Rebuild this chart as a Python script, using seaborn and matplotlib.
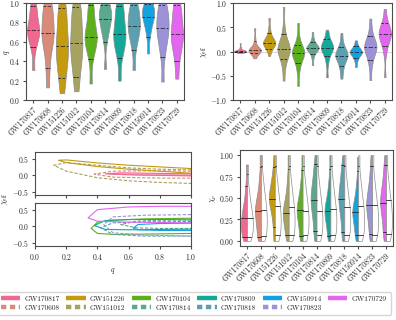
import numpy as np
import pandas as pd
import matplotlib
matplotlib.use("Agg")
import matplotlib.pyplot as plt
from matplotlib.lines import Line2D
import seaborn as sns

events = ['GW170817', 'GW170608', 'GW151226', 'GW151012', 'GW170104', 'GW170814',
          'GW170809', 'GW170818', 'GW150914', 'GW170823', 'GW170729']
solid_events = ['GW170817', 'GW151226', 'GW170104', 'GW170809', 'GW150914', 'GW170729']
top_events = ['GW170817', 'GW170608', 'GW151226', 'GW151012']
event_colors = ['#f0678f', '#d98b77', '#c49a0f', '#a5a35f', '#5bb01c', '#5aa88e',
                '#13a898', '#5aa0b0', '#13a2e0', '#9b92d8', '#e365f0']

q_samples = {
    'GW170817': [0.31, 0.52, 0.60, 0.65, 0.68, 0.71, 0.73, 0.77, 0.82, 0.88, 0.95, 1.0],
    'GW170608': [0.13, 0.33, 0.48, 0.57, 0.63, 0.67, 0.71, 0.77, 0.83, 0.90, 0.96, 1.0],
    'GW151226': [0.07, 0.22, 0.32, 0.40, 0.47, 0.53, 0.59, 0.66, 0.74, 0.83, 0.93, 1.0],
    'GW151012': [0.09, 0.24, 0.35, 0.43, 0.50, 0.56, 0.62, 0.69, 0.77, 0.85, 0.94, 1.0],
    'GW170104': [0.17, 0.42, 0.52, 0.57, 0.61, 0.64, 0.67, 0.71, 0.77, 0.85, 0.94, 1.0],
    'GW170814': [0.32, 0.60, 0.69, 0.74, 0.78, 0.82, 0.85, 0.88, 0.91, 0.94, 0.97, 1.0],
    'GW170809': [0.20, 0.43, 0.52, 0.58, 0.62, 0.66, 0.70, 0.75, 0.81, 0.88, 0.95, 1.0],
    'GW170818': [0.31, 0.52, 0.61, 0.67, 0.71, 0.75, 0.78, 0.82, 0.86, 0.91, 0.96, 1.0],
    'GW150914': [0.48, 0.65, 0.73, 0.78, 0.82, 0.85, 0.87, 0.90, 0.93, 0.95, 0.98, 1.0],
    'GW170823': [0.19, 0.44, 0.55, 0.62, 0.67, 0.72, 0.76, 0.80, 0.85, 0.90, 0.96, 1.0],
    'GW170729': [0.22, 0.40, 0.50, 0.57, 0.62, 0.66, 0.70, 0.75, 0.81, 0.88, 0.95, 1.0],
}
q_lo = [0.55, 0.33, 0.23, 0.24, 0.42, 0.60, 0.43, 0.52, 0.65, 0.44, 0.40]
q_med = [0.72, 0.69, 0.56, 0.59, 0.65, 0.83, 0.68, 0.76, 0.86, 0.74, 0.68]
q_hi = [0.97, 0.97, 0.95, 0.96, 0.98, 0.98, 0.97, 0.98, 0.99, 0.98, 0.98]

# effective spin
chi_eff_samples = {
    'GW170817': [-0.03, -0.015, -0.01, -0.005, 0.0, 0.0, 0.005, 0.005, 0.01, 0.01, 0.015, 0.02, 0.03, 0.05, 0.09, 0.17],
    'GW170608': [-0.14, -0.07, -0.04, -0.02, 0.0, 0.01, 0.02, 0.03, 0.03, 0.04, 0.05, 0.07, 0.10, 0.16, 0.27, 0.48],
    'GW151226': [-0.09, 0.03, 0.07, 0.10, 0.13, 0.15, 0.17, 0.18, 0.19, 0.21, 0.23, 0.26, 0.30, 0.36, 0.48, 0.69],
    'GW151012': [-0.60, -0.34, -0.20, -0.12, -0.06, -0.02, 0.01, 0.04, 0.06, 0.09, 0.12, 0.16, 0.22, 0.31, 0.50, 0.92],
    'GW170104': [-0.71, -0.42, -0.28, -0.20, -0.14, -0.10, -0.06, -0.04, -0.02, 0.0, 0.03, 0.06, 0.10, 0.16, 0.30, 0.59],
    'GW170814': [-0.28, -0.12, -0.04, 0.0, 0.03, 0.05, 0.06, 0.07, 0.08, 0.09, 0.10, 0.12, 0.15, 0.19, 0.26, 0.40],
    'GW170809': [-0.53, -0.26, -0.13, -0.06, -0.01, 0.03, 0.05, 0.07, 0.09, 0.11, 0.13, 0.16, 0.20, 0.25, 0.33, 0.45],
    'GW170818': [-0.56, -0.40, -0.30, -0.23, -0.18, -0.14, -0.11, -0.09, -0.07, -0.05, -0.02, 0.01, 0.05, 0.10, 0.20, 0.38],
    'GW150914': [-0.32, -0.20, -0.14, -0.10, -0.07, -0.05, -0.03, -0.02, -0.01, 0.0, 0.02, 0.04, 0.06, 0.09, 0.14, 0.23],
    'GW170823': [-0.59, -0.32, -0.18, -0.10, -0.04, 0.01, 0.05, 0.08, 0.10, 0.13, 0.16, 0.20, 0.25, 0.32, 0.45, 0.68],
    'GW170729': [-0.53, -0.05, 0.10, 0.18, 0.24, 0.28, 0.32, 0.35, 0.37, 0.40, 0.43, 0.47, 0.52, 0.58, 0.68, 0.88],
}
chi_eff_lo = [-0.01, -0.04, 0.06, -0.15, -0.24, -0.05, -0.09, -0.30, -0.14, -0.17, 0.12]
chi_eff_med = [0.00, 0.03, 0.18, 0.05, -0.04, 0.07, 0.08, -0.09, -0.01, 0.09, 0.36]
chi_eff_hi = [0.02, 0.22, 0.38, 0.36, 0.13, 0.19, 0.25, 0.09, 0.11, 0.31, 0.58]

# precessing spin: posterior (coloured, left) and prior (white, right)
chi_p_post = {
    'GW170817': [0.0, 0.04, 0.08, 0.12, 0.16, 0.20, 0.24, 0.28, 0.32, 0.37, 0.43, 0.52, 0.65, 0.89],
    'GW170608': [0.0, 0.05, 0.12, 0.19, 0.25, 0.30, 0.34, 0.37, 0.41, 0.46, 0.53, 0.62, 0.76, 1.0],
    'GW151226': [0.0, 0.16, 0.28, 0.36, 0.42, 0.46, 0.49, 0.52, 0.56, 0.61, 0.67, 0.74, 0.84, 1.0],
    'GW151012': [0.0, 0.06, 0.13, 0.20, 0.25, 0.29, 0.32, 0.35, 0.39, 0.44, 0.51, 0.61, 0.75, 1.0],
    'GW170104': [0.0, 0.06, 0.14, 0.21, 0.27, 0.32, 0.35, 0.38, 0.42, 0.47, 0.54, 0.63, 0.76, 1.0],
    'GW170814': [0.0, 0.10, 0.20, 0.29, 0.36, 0.42, 0.47, 0.51, 0.56, 0.62, 0.69, 0.77, 0.87, 1.0],
    'GW170809': [0.0, 0.06, 0.14, 0.21, 0.27, 0.31, 0.34, 0.37, 0.41, 0.46, 0.53, 0.62, 0.75, 1.0],
    'GW170818': [0.0, 0.10, 0.21, 0.30, 0.37, 0.43, 0.48, 0.52, 0.57, 0.63, 0.70, 0.78, 0.87, 1.0],
    'GW150914': [0.0, 0.06, 0.13, 0.20, 0.26, 0.30, 0.33, 0.36, 0.40, 0.45, 0.52, 0.61, 0.74, 0.98],
    'GW170823': [0.0, 0.08, 0.17, 0.25, 0.32, 0.37, 0.41, 0.45, 0.50, 0.56, 0.63, 0.72, 0.84, 1.0],
    'GW170729': [0.0, 0.09, 0.18, 0.27, 0.34, 0.40, 0.44, 0.48, 0.53, 0.59, 0.66, 0.75, 0.86, 1.0],
}
chi_p_prior = {e: [0.0, 0.05, 0.10, 0.15, 0.20, 0.25, 0.30, 0.35, 0.40, 0.46, 0.53, 0.62, 0.74, 1.0] for e in events}
chi_p_prior['GW170817'] = [0.0, 0.04, 0.08, 0.12, 0.16, 0.20, 0.24, 0.28, 0.32, 0.37, 0.43, 0.51, 0.62, 0.89]
chi_p_post_lo = [0.04, 0.05, 0.16, 0.07, 0.06, 0.11, 0.06, 0.10, 0.07, 0.08, 0.10]
chi_p_post_med = [0.27, 0.35, 0.49, 0.33, 0.36, 0.48, 0.35, 0.49, 0.34, 0.42, 0.44]
chi_p_post_hi = [0.64, 0.86, 0.86, 0.84, 0.83, 0.90, 0.84, 0.88, 0.82, 0.87, 0.88]
chi_p_prior_lo = [0.04, 0.06, 0.07, 0.07, 0.07, 0.07, 0.07, 0.07, 0.07, 0.07, 0.08]
chi_p_prior_med = [0.27, 0.36, 0.41, 0.39, 0.35, 0.35, 0.37, 0.40, 0.41, 0.42, 0.48]
chi_p_prior_hi = [0.78, 0.87, 0.87, 0.87, 0.87, 0.87, 0.87, 0.87, 0.87, 0.87, 0.88]

# 90% credible contours in (q, chi_eff): q grid, upper edge, lower edge
contour_q = {
    'GW170817': [0.45, 0.55, 0.70, 0.85, 1.00],
    'GW170608': [0.38, 0.50, 0.70, 0.85, 1.00],
    'GW151226': [0.15, 0.20, 0.40, 0.60, 0.80, 1.00],
    'GW151012': [0.12, 0.20, 0.40, 0.60, 0.80, 1.00],
    'GW170104': [0.36, 0.40, 0.50, 0.70, 1.00],
    'GW170814': [0.55, 0.65, 0.80, 1.00],
    'GW170809': [0.38, 0.45, 0.60, 0.80, 1.00],
    'GW170818': [0.42, 0.50, 0.70, 1.00],
    'GW150914': [0.63, 0.66, 0.80, 1.00],
    'GW170823': [0.44, 0.50, 0.70, 1.00],
    'GW170729': [0.34, 0.40, 0.60, 0.80, 1.00],
}
contour_up = {
    'GW170817': [0.04, 0.07, 0.06, 0.05, 0.04],
    'GW170608': [0.03, 0.12, 0.13, 0.13, 0.12],
    'GW151226': [0.45, 0.46, 0.37, 0.30, 0.25, 0.20],
    'GW151012': [0.30, 0.38, 0.30, 0.22, 0.18, 0.16],
    'GW170104': [-0.07, 0.12, 0.18, 0.22, 0.24],
    'GW170814': [0.05, 0.15, 0.18, 0.19],
    'GW170809': [0.02, 0.17, 0.20, 0.20, 0.19],
    'GW170818': [-0.05, 0.10, 0.13, 0.14],
    'GW150914': [-0.06, 0.05, 0.08, 0.09],
    'GW170823': [0.05, 0.28, 0.33, 0.35],
    'GW170729': [0.25, 0.50, 0.58, 0.60, 0.60],
}
contour_dn = {
    'GW170817': [0.04, 0.02, 0.0, -0.01, -0.02],
    'GW170608': [0.03, -0.06, -0.08, -0.09, -0.09],
    'GW151226': [0.45, 0.38, 0.26, 0.18, 0.12, 0.06],
    'GW151012': [0.30, 0.12, -0.08, -0.17, -0.22, -0.25],
    'GW170104': [-0.07, -0.22, -0.25, -0.24, -0.22],
    'GW170814': [0.05, -0.05, -0.07, -0.07],
    'GW170809': [0.02, -0.10, -0.11, -0.10, -0.09],
    'GW170818': [-0.05, -0.25, -0.30, -0.30],
    'GW150914': [-0.06, -0.11, -0.13, -0.13],
    'GW170823': [0.05, -0.20, -0.27, -0.30],
    'GW170729': [0.25, 0.15, 0.12, 0.11, 0.10],
}

colors = dict(zip(events, event_colors))

sns.set_style('ticks')
plt.rcParams['font.family'] = 'serif'
plt.rcParams['font.serif'] = ['cmr10', 'DejaVu Serif']
plt.rcParams['mathtext.fontset'] = 'cm'
plt.rcParams['axes.formatter.use_mathtext'] = True
plt.rcParams['font.size'] = 5.5
plt.rcParams['axes.edgecolor'] = '0.3'
plt.rcParams['axes.linewidth'] = 0.8
plt.rcParams['xtick.color'] = '0.3'
plt.rcParams['ytick.color'] = '0.3'
plt.rcParams['xtick.labelcolor'] = '0.15'
plt.rcParams['ytick.labelcolor'] = '0.15'
plt.rcParams['xtick.major.size'] = 2.5
plt.rcParams['ytick.major.size'] = 2.5
plt.rcParams['xtick.major.pad'] = 1.5
plt.rcParams['ytick.major.pad'] = 1.5

W, H = 396, 320
fig = plt.figure(figsize=(W / 100, H / 100), dpi=100)


def box(x0, y0, x1, y1):
    return [x0 / W, 1 - y1 / H, (x1 - x0) / W, (y1 - y0) / H]


ax_q = fig.add_axes(box(26, 3, 184, 100))
ax_e = fig.add_axes(box(233, 3, 392, 100))
ax_c1 = fig.add_axes(box(35, 152, 191, 195))
ax_c2 = fig.add_axes(box(35, 203, 191, 246))
ax_p = fig.add_axes(box(240, 150, 393, 246))


def long_frame(samples, name):
    rows = [(e, v) for e in events for v in samples[e]]
    return pd.DataFrame(rows, columns=['event', name])


def violin_halves(ax):
    # half-width profile of every violin body drawn by seaborn
    out = {}
    for coll in ax.collections:
        for path in coll.get_paths():
            v = path.vertices
            c = int(round(v[:, 0].mean()))
            eps = 1e-6
            for side, m, sgn in (('L', v[:, 0] < c - eps, -1), ('R', v[:, 0] > c + eps, 1)):
                if m.sum() < 3:
                    continue
                pts = v[m]
                order = np.argsort(pts[:, 1])
                out[(c, side)] = (pts[order, 1], sgn * (pts[order, 0] - c))
    return out


def draw_marks(ax, vals, sides, ls):
    prof = violin_halves(ax)
    for i, y in enumerate(vals):
        for side in sides:
            if (i, side) not in prof:
                continue
            ys, ws = prof[(i, side)]
            w = np.interp(y, ys, ws)
            x0, x1 = (i - w, i) if side == 'L' else (i, i + w)
            ax.plot([x0, x1], [y, y], color='0.15', lw=0.6, ls=ls,
                    dashes=(3, 2) if ls == '--' else (None, None))


violin_kw = dict(cut=0, density_norm='width', inner=None, saturation=1,
                 linewidth=0.5, linecolor='0.55', width=0.85, legend=False)

# --- mass ratio
df_q = long_frame(q_samples, 'q')
sns.violinplot(data=df_q, x='event', y='q', hue='event', palette=colors,
               order=events, hue_order=events, bw_adjust=0.7, ax=ax_q, **violin_kw)
for vals in (q_lo, q_med, q_hi):
    draw_marks(ax_q, vals, ['L', 'R'], '--')
ax_q.set_ylim(0, 1)
ax_q.set_yticks(np.arange(0, 1.01, 0.2))
ax_q.set_ylabel('')
fig.text(7 / W, 1 - 52 / H, '$q$', rotation=90, ha='center', va='center', fontsize=5.5)

# --- effective spin
df_e = long_frame(chi_eff_samples, 'chi_eff')
ax_e.axhline(0, color='0.85', lw=0.8, zorder=0)
sns.violinplot(data=df_e, x='event', y='chi_eff', hue='event', palette=colors,
               order=events, hue_order=events, bw_adjust=0.7, ax=ax_e, **violin_kw)
for vals in (chi_eff_lo, chi_eff_med, chi_eff_hi):
    draw_marks(ax_e, vals, ['L', 'R'], '--')
ax_e.set_ylim(-1, 1)
ax_e.set_yticks(np.arange(-1, 1.01, 0.5))
ax_e.set_ylabel(r'$\chi_{\rm eff}$', labelpad=1)

# --- precessing spin (split: posterior left, prior right)
df_post = long_frame(chi_p_post, 'chi_p').assign(kind='posterior')
df_prior = long_frame(chi_p_prior, 'chi_p').assign(kind='prior')
df_p = pd.concat([df_post, df_prior], ignore_index=True)
sns.violinplot(data=df_p, x='event', y='chi_p', hue='kind', split=True,
               palette={'posterior': 'white', 'prior': 'white'}, order=events,
               hue_order=['posterior', 'prior'], bw_adjust=0.65, ax=ax_p, **violin_kw)
for coll in ax_p.collections:
    v = coll.get_paths()[0].vertices
    c = int(round(v[:, 0].mean()))
    if v[:, 0].mean() < c:
        coll.set_facecolor(colors[events[c]])
for vals in (chi_p_post_lo, chi_p_post_med, chi_p_post_hi):
    draw_marks(ax_p, vals, ['L'], '-')
for vals in (chi_p_prior_lo, chi_p_prior_med, chi_p_prior_hi):
    draw_marks(ax_p, vals, ['R'], '-')
ax_p.set_ylim(-0.06, 1.06)
ax_p.set_yticks(np.arange(0, 1.01, 0.25))
ax_p.set_ylabel(r'$\chi_p$', labelpad=1)

for ax in (ax_q, ax_e, ax_p):
    ax.set_xlabel('')
    ax.set_xlim(-0.5, len(events) - 0.5)
    plt.setp(ax.get_xticklabels(), rotation=45, ha='right', rotation_mode='anchor')

# --- q vs chi_eff contours
for ax, subset in ((ax_c1, top_events), (ax_c2, [e for e in events if e not in top_events])):
    for e in subset:
        qs = contour_q[e]
        xs = qs[::-1] + qs[1:]
        ys = contour_up[e][::-1] + contour_dn[e][1:]
        solid = e in solid_events
        ax.plot(xs, ys, color=colors[e], lw=0.8, ls='-' if solid else '--',
                dashes=(None, None) if solid else (3, 1.5))
        if e == 'GW170817':
            ax.fill_between(qs, contour_dn[e], contour_up[e], color=colors[e], alpha=0.6, lw=0)
    ax.set_xlim(0, 1)
    ax.set_ylim(-0.6, 0.7)
    ax.set_yticks([-0.5, 0.0, 0.5])
    ax.set_xticks(np.arange(0, 1.01, 0.2))
ax_c1.set_xticklabels([])
ax_c2.set_xlabel('$q$', labelpad=3)
fig.text(5 / W, 1 - 199 / H, r'$\chi_{\rm eff}$', rotation=90, ha='center', va='center', fontsize=5.5)

# --- legend
handles = []
for e in events:
    if e in solid_events:
        h = Line2D([], [], color=colors[e], lw=3.2, solid_capstyle='butt')
    else:
        h = Line2D([], [], color=colors[e], lw=3.2, ls=(0, (1.2, 0.8)), dash_capstyle='butt')
    handles.append(h)
fig.legend(handles, events, loc='lower center', bbox_to_anchor=(0.49, 0.005), ncol=6,
           fontsize=5.3, handlelength=2.6, handletextpad=0.6, columnspacing=0.9,
           frameon=True, edgecolor='0.8', borderpad=0.5, labelspacing=0.4)

fig.savefig('out.png', dpi=100)
